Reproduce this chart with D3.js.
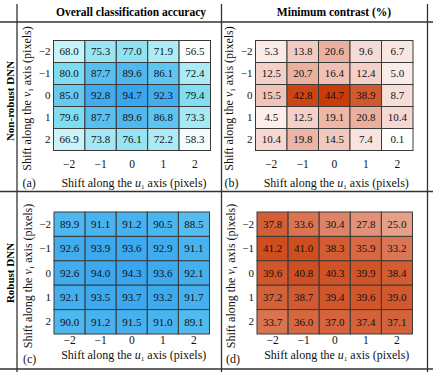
<!DOCTYPE html>
<html>
<head>
<meta charset="utf-8">
<script src="https://cdn.jsdelivr.net/npm/d3@7"></script>
<style>
  body { margin: 0; background: #fff; }
  svg { display: block; font-family: "Liberation Serif", "Times New Roman", serif; }
</style>
</head>
<body>
<div id="chart"></div>
<script>
// shift labels along u1 (columns) and v1 (rows)
const shifts = ["\u22122", "\u22121", "0", "1", "2"];

const accNonRobust = [
  [68.0, 75.3, 77.0, 71.9, 56.5],
  [80.0, 87.7, 89.6, 86.1, 72.4],
  [85.0, 92.8, 94.7, 92.3, 79.4],
  [79.6, 87.7, 89.6, 86.8, 73.3],
  [66.9, 73.8, 76.1, 72.2, 58.3]
];
const contrastNonRobust = [
  [5.3, 13.8, 20.6, 9.6, 6.7],
  [12.5, 20.7, 16.4, 12.4, 5.0],
  [15.5, 42.8, 44.7, 38.9, 8.7],
  [4.5, 12.5, 19.1, 20.8, 10.4],
  [10.4, 19.8, 14.5, 7.4, 0.1]
];
const accRobust = [
  [89.9, 91.1, 91.2, 90.5, 88.5],
  [92.6, 93.9, 93.6, 92.9, 91.1],
  [92.6, 94.0, 94.3, 93.6, 92.1],
  [92.1, 93.5, 93.7, 93.2, 91.7],
  [90.0, 91.2, 91.5, 91.0, 89.1]
];
const contrastRobust = [
  [37.8, 33.6, 30.4, 27.8, 25.0],
  [41.2, 41.0, 38.3, 35.9, 33.2],
  [39.6, 40.8, 40.3, 39.9, 38.4],
  [37.2, 38.7, 39.4, 39.6, 39.0],
  [33.7, 36.0, 37.0, 37.4, 37.1]
];

const colTitles = ["Overall classification accuracy", "Minimum contrast (%)"];
const rowTitles = ["Non-robust DNN", "Robust DNN"];
const panelTags = ["(a)", "(b)", "(c)", "(d)"];

const W = 433, H = 372;
const svg = d3.select("#chart").append("svg")
  .attr("width", W).attr("height", H);

const accColor = d3.scaleLinear()
  .domain([56, 68, 80, 95])
  .range(["#ffffff", "#c6f3f8", "#7ddcf0", "#36a4ef"]);
const contrastColor = d3.scaleLinear()
  .domain([0, 12, 25, 45])
  .range(["#ffffff", "#f3d2ca", "#e6a08a", "#c93a06"]);

// table frame
const line = "#333";
[[0, 22, W, 22], [0, 191.5, W, 191.5], [0, 369, W, 369],
 [17, 4, 17, H], [221.5, 4, 221.5, H], [427.5, 4, 427.5, H]].forEach(l => {
  svg.append("line")
    .attr("x1", l[0]).attr("y1", l[1]).attr("x2", l[2]).attr("y2", l[3])
    .attr("stroke", line).attr("stroke-width", 1.3);
});

// column headers
[131, 334].forEach((cx, i) => {
  svg.append("text")
    .attr("x", cx).attr("y", 16)
    .attr("text-anchor", "middle")
    .attr("font-size", 11.5).attr("font-weight", "bold")
    .text(colTitles[i]);
});

// row headers
[101, 273].forEach((cy, i) => {
  svg.append("text")
    .attr("transform", `translate(14,${cy}) rotate(-90)`)
    .attr("text-anchor", "middle")
    .attr("font-size", 11).attr("font-weight", "bold")
    .text(rowTitles[i]);
});

const panels = [
  { data: accNonRobust, color: accColor, x0: 53.5, x1: 210.5, y0: 40.5, y1: 150.5, tickGap: 9, titleGap: 36 },
  { data: contrastNonRobust, color: contrastColor, x0: 255.5, x1: 413, y0: 40.5, y1: 150.5, tickGap: 9, titleGap: 36 },
  { data: accRobust, color: accColor, x0: 54, x1: 209.5, y0: 212, y1: 334, tickGap: 2, titleGap: 25 },
  { data: contrastRobust, color: contrastColor, x0: 257, x1: 412.5, y0: 212, y1: 334, tickGap: 2, titleGap: 25 }
];

function axisTitle(sel, letter) {
  sel.append("tspan").text("Shift along the ");
  sel.append("tspan").attr("font-style", "italic").text(letter);
  sel.append("tspan").attr("font-size", 7).attr("dy", 2).text("1");
  sel.append("tspan").attr("dy", -2).text(" axis (pixels)");
}

panels.forEach((p, k) => {
  const x = d3.scaleBand().domain(shifts).range([p.x0, p.x1]);
  const y = d3.scaleBand().domain(shifts).range([p.y0, p.y1]);
  const g = svg.append("g");

  const cells = [];
  p.data.forEach((row, r) => row.forEach((v, c) => cells.push({ r, c, v })));

  g.selectAll("rect").data(cells).enter().append("rect")
    .attr("x", d => x(shifts[d.c]))
    .attr("y", d => y(shifts[d.r]))
    .attr("width", x.bandwidth())
    .attr("height", y.bandwidth())
    .attr("fill", d => p.color(d.v))
    .attr("stroke", "#3a3a3a")
    .attr("stroke-width", 1);

  g.selectAll(".val").data(cells).enter().append("text")
    .attr("class", "val")
    .attr("x", d => x(shifts[d.c]) + x.bandwidth() / 2)
    .attr("y", d => y(shifts[d.r]) + y.bandwidth() / 2)
    .attr("dy", "0.35em")
    .attr("text-anchor", "middle")
    .attr("font-size", 11)
    .attr("fill", "#111")
    .text(d => d.v.toFixed(1));

  const gx = g.append("g")
    .attr("transform", `translate(0,${p.y1 + p.tickGap})`)
    .call(d3.axisBottom(x).tickSize(0).tickPadding(0));
  gx.attr("font-family", null).attr("font-size", null);
  gx.select(".domain").remove();
  gx.selectAll("text").attr("font-size", 11.5).attr("fill", "#111");

  const gy = g.append("g")
    .attr("transform", `translate(${p.x0 - 3},0)`)
    .call(d3.axisLeft(y).tickSize(0).tickPadding(0));
  gy.attr("font-family", null).attr("font-size", null);
  gy.select(".domain").remove();
  gy.selectAll("text").attr("font-size", 11).attr("fill", "#111");

  const titleY = p.y1 + p.titleGap;
  const xt = g.append("text")
    .attr("x", (p.x0 + p.x1) / 2 + 2).attr("y", titleY)
    .attr("text-anchor", "middle").attr("font-size", 12).attr("fill", "#111");
  axisTitle(xt, "u");

  const yt = g.append("text")
    .attr("transform", `translate(${p.x0 - 22.5},${(p.y0 + p.y1) / 2 + 3}) rotate(-90)`)
    .attr("text-anchor", "middle").attr("font-size", 12).attr("fill", "#111");
  axisTitle(yt, "v");

  g.append("text")
    .attr("x", p.x0 - 31).attr("y", titleY + (k >= 2 ? 4 : 0))
    .attr("font-size", 12).attr("fill", "#111")
    .text(panelTags[k]);
});
</script>
</body>
</html>
